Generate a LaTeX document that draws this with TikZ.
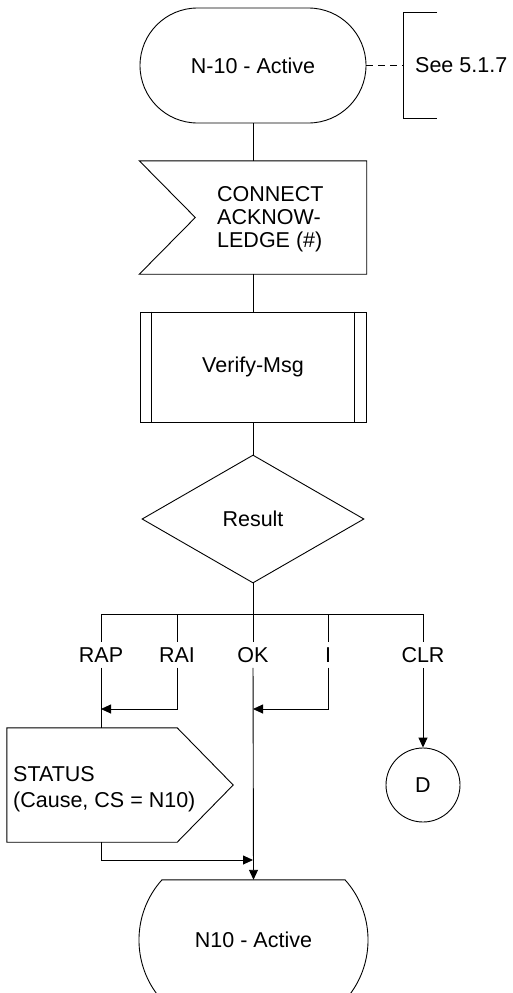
\documentclass[tikz,border=0pt]{standalone}
\usepackage{fontspec}
\setmainfont{Liberation Sans}
\usetikzlibrary{arrows.meta,shapes.geometric,shapes.misc,calc}
\begin{document}
\begin{tikzpicture}[x=1pt,y=-1pt,
  every node/.style={font=\fontsize{21.5}{23.3}\selectfont},
  line/.style={line width=0.9pt, draw=black},
  arr/.style={line, -{Triangle[length=10pt,width=9pt]}},
  box/.style={line, inner sep=0pt, fill=white},
  frame/.style={inner sep=0pt, draw=none},
  lbl/.style={inner xsep=2pt, inner ysep=5pt}
]
\useasboundingbox (0,0) rectangle (512,993);
\clip (0,0) rectangle (512,993);

% start state
\node[box, rounded rectangle, minimum width=226pt, minimum height=115pt] (start) at (253,65.5) {N-10 - Active};
% comment bracket
\coordinate (brk) at (403,65.5);
\draw[line] (437,12) -- (403,12) -- (403,118) -- (437,118);
\node[anchor=west, inner sep=0pt] (see) at (415,65.5) {See 5.1.7};
\draw[line, dash pattern=on 7pt off 5pt] (start.east) -- (brk);

% input signal
\node[frame, minimum width=227pt, minimum height=113pt] (inp) at (253,217.5) {};
\draw[line, fill=white] (inp.north west) -- (inp.north east) -- (inp.south east) -- (inp.south west) -- ($(inp.west)+(56,0)$) -- cycle;
\node[anchor=north west, align=left, inner sep=0pt] (inptxt) at (217,186) {CONNECT\\ACKNOW-\\LEDGE (\#)};

% procedure call
\node[box, draw, minimum width=226pt, minimum height=110pt] (vm) at (253,367) {Verify-Msg};
\draw[line] ($(vm.north west)+(12,0)$) -- ($(vm.south west)+(12,0)$);
\draw[line] ($(vm.north east)+(-12,0)$) -- ($(vm.south east)+(-12,0)$);

% decision
\node[box, draw, diamond, aspect=1.73, minimum width=222pt, minimum height=128pt] (res) at (253,519) {Result};

\draw[line] (start.south) -- (inp.north);
\draw[line] (inp.south) -- (vm.north);
\draw[line] (vm.south) -- (res.north);

% branch bar
\coordinate (br) at (253,614);
\coordinate (b1) at (101,614);
\coordinate (b2) at (177,614);
\coordinate (b4) at (328,614);
\coordinate (b5) at (423,614);
\draw[line] (res.south) -- (br);
\draw[line] (b1) -- (b5);

\node[lbl] (rap) at (101,655) {RAP};
\node[lbl] (rai) at (177,655) {RAI};
\node[lbl] (ok) at (253,655) {OK};
\node[lbl] (ib) at (328,655) {I};
\node[lbl] (clr) at (423,655) {CLR};
\draw[line] (b1) -- (rap);
\draw[line] (b2) -- (rai);
\draw[line] (br) -- (ok);
\draw[line] (b4) -- (ib);
\draw[line] (b5) -- (clr);

% output signal
\node[frame, minimum width=226pt, minimum height=114pt] (out) at (120,785) {};
\draw[line, fill=white] (out.north west) -- ($(out.north east)+(-56,0)$) -- (out.east) -- ($(out.south east)+(-56,0)$) -- (out.south west) -- cycle;
\node[anchor=north west, align=left, inner sep=0pt, font=\fontsize{21.5}{26.5}\selectfont] (outtxt) at (13,766) {STATUS\\(Cause, CS = N10)};

% connector D
\node[box, draw, circle, minimum size=74pt] (d) at (423,785) {D};

% next state
\node[frame, minimum width=228pt, minimum height=120pt] (st2) at (253.5,940) {N10 - Active};
\draw[line] ($(st2.north)+(-91.5,0)$) -- ($(st2.north)+(91.5,0)$)
  .. controls ($(st2.north)+(122.2,34)$) and ($(st2.south)+(122.2,-34)$) .. ($(st2.south)+(91.5,0)$)
  -- ($(st2.south)+(-91.5,0)$)
  .. controls ($(st2.south)+(-122.2,-34)$) and ($(st2.north)+(-122.2,34)$) .. ($(st2.north)+(-91.5,0)$) -- cycle;

% joins
\coordinate (j1) at (101,709);
\coordinate (j2) at (253,709);
\coordinate (j3) at (253,860);
\draw[line] (rap) -- (out.north -| rap);
\draw[arr] (rai) |- (j1);
\draw[arr] (ib) |- (j2);
\draw[arr] (ok) -- (st2.north);
\draw[arr] (clr) -- (d);
\draw[arr] (out.south -| rap) |- (j3);
\end{tikzpicture}
\end{document}
